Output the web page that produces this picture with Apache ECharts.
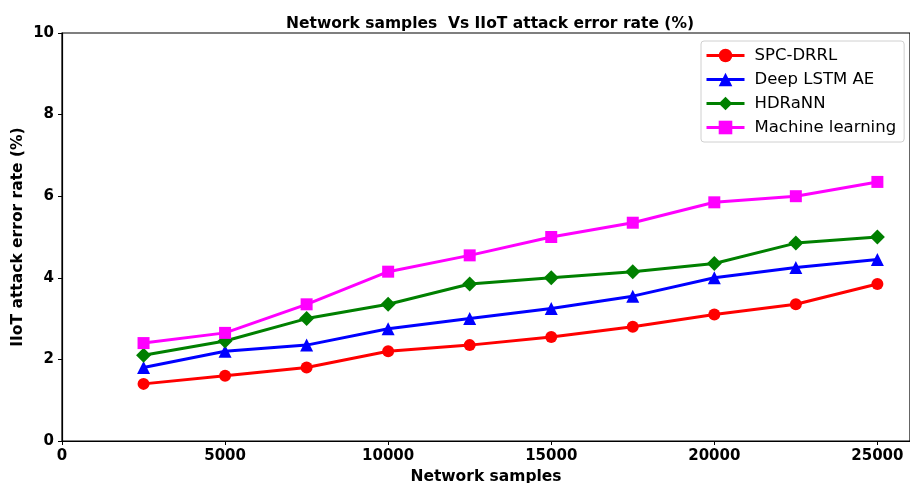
<!DOCTYPE html>
<html><head><meta charset="utf-8">
<script src="https://cdn.jsdelivr.net/npm/echarts@6/dist/echarts.min.js"></script>
<style>html,body{margin:0;padding:0;background:#fff}#c{width:910px;height:483px}</style>
</head><body><div id="c"></div>
<script>
const samples = [2500, 5000, 7500, 10000, 12500, 15000, 17500, 20000, 22500, 25000];
const spcDrrl = [1.4, 1.6, 1.8, 2.2, 2.35, 2.55, 2.8, 3.1, 3.35, 3.85];
const deepLstmAe = [1.8, 2.2, 2.35, 2.75, 3.0, 3.25, 3.55, 4.0, 4.25, 4.45];
const hdrann = [2.1, 2.45, 3.0, 3.35, 3.85, 4.0, 4.15, 4.35, 4.85, 5.0];
const machineLearning = [2.4, 2.65, 3.35, 4.15, 4.55, 5.0, 5.35, 5.85, 6.0, 6.35];
const seriesNames = ['SPC-DRRL', 'Deep LSTM AE', 'HDRaNN', 'Machine learning'];

const font = 'DejaVu Sans';
function mk(name, vals, color, symbol, size) {
  return {
    name, type: 'line', data: samples.map((x, i) => [x, vals[i]]),
    symbol, symbolSize: size, showAllSymbol: true,
    lineStyle: { color, width: 3 }, itemStyle: { color },
    emphasis: { disabled: true }
  };
}
const chart = echarts.init(document.getElementById('c'), null, { renderer: 'canvas' });
chart.setOption({
  animation: false,
  backgroundColor: '#fff',
  title: {
    text: 'Network samples  Vs IIoT attack error rate (%)',
    left: 485, top: 11, textAlign: 'center',
    textStyle: { fontFamily: font, fontWeight: 'bold', fontSize: 15.5, color: '#000' }
  },
  grid: { left: 62, right: 0, top: 33, bottom: 42, show: true, borderColor: '#000', borderWidth: 1.2, containLabel: false, outerBoundsMode: 'none' },
  legend: {
    orient: 'vertical', left: 701, top: 41,
    backgroundColor: '#fff', borderColor: '#d0d0d0', borderWidth: 1, borderRadius: 3,
    padding: [6, 8, 6, 4], itemGap: 7, itemWidth: 38, itemHeight: 17,
    lineStyle: { width: 3 },
    textStyle: { fontFamily: font, fontSize: 16.5, color: '#000', padding: [0, 0, 0, 5] },
    data: seriesNames
  },
  xAxis: {
    type: 'value', min: 0, max: 26000, interval: 5000,
    name: 'Network samples', nameLocation: 'middle', nameGap: 25,
    nameTextStyle: { fontFamily: font, fontWeight: 'bold', fontSize: 15.5, color: '#000' },
    axisLine: { show: true, lineStyle: { color: '#000', width: 1.2 } },
    axisTick: { show: true, length: 4, lineStyle: { color: '#000' } },
    axisLabel: { fontFamily: font, fontWeight: 'bold', fontSize: 15, color: '#000', margin: 8, showMaxLabel: false, formatter: v => String(v) },
    splitLine: { show: false }
  },
  yAxis: {
    type: 'value', min: 0, max: 10, interval: 2,
    name: 'IIoT attack error rate (%)', nameLocation: 'middle', nameGap: 36, nameMoveOverlap: false,
    nameTextStyle: { fontFamily: font, fontWeight: 'bold', fontSize: 15.5, color: '#000' },
    axisLine: { show: true, lineStyle: { color: '#000', width: 1.2 } },
    axisTick: { show: true, length: 4, lineStyle: { color: '#000' } },
    axisLabel: { fontFamily: font, fontWeight: 'bold', fontSize: 15, color: '#000', margin: 8 },
    splitLine: { show: false }
  },
  series: [
    mk('SPC-DRRL', spcDrrl, '#ff0000', 'circle', 12),
    mk('Deep LSTM AE', deepLstmAe, '#0000ff', 'triangle', 13),
    mk('HDRaNN', hdrann, '#008000', 'diamond', 15),
    mk('Machine learning', machineLearning, '#ff00ff', 'rect', 12)
  ]
});
</script></body></html>
